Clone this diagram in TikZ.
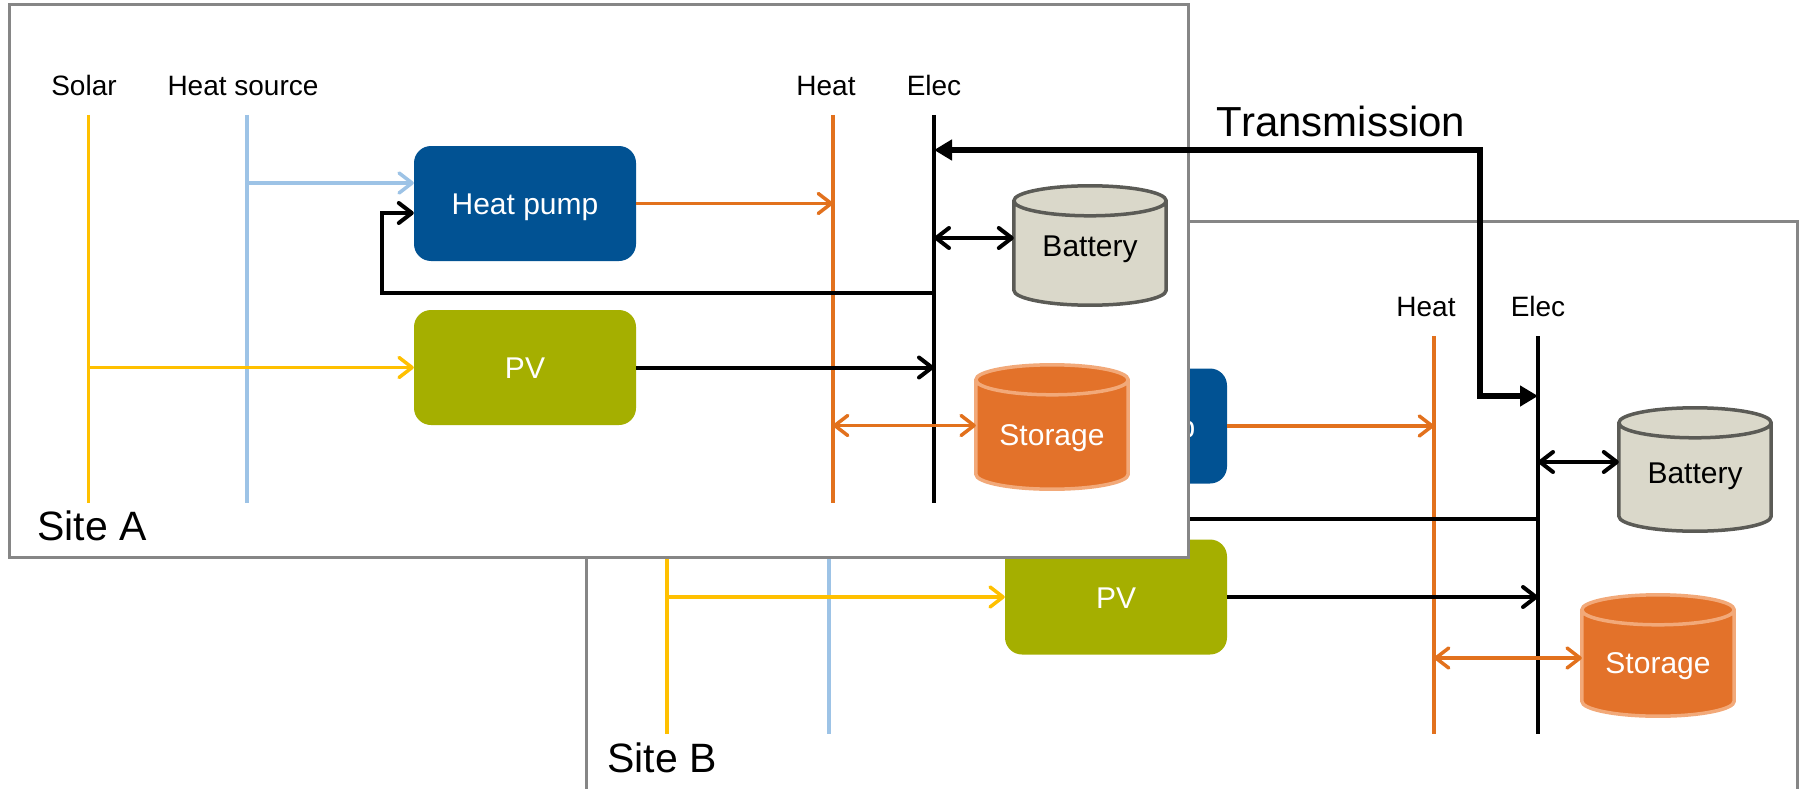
\documentclass[tikz,border=0pt]{standalone}
\usepackage{fontspec}
\setmainfont{Liberation Sans}
\usetikzlibrary{arrows.meta,calc}
\definecolor{solarc}{HTML}{FFC000}
\definecolor{hsrcc}{HTML}{9DC3E6}
\definecolor{heatc}{HTML}{E2711D}
\definecolor{hpblue}{HTML}{015293}
\definecolor{pvgreen}{HTML}{A5AF00}
\definecolor{batfill}{HTML}{DAD8CA}
\definecolor{batedge}{HTML}{5B5B56}
\definecolor{stfill}{HTML}{E3722A}
\definecolor{stedge}{HTML}{F2A979}
\definecolor{framec}{HTML}{868686}
\newcommand{\drawcyl}[4]{%
  \path[fill=#2, draw=#3, line width=3.5pt] let \p1=(#1.north west), \p2=(#1.south east), \n1={(\x2-\x1)/2} in
    (\x1,\y1-#4) -- (\x1,\y2+#4) arc[start angle=180, end angle=360, x radius=\n1, y radius=#4] -- (\x2,\y1-#4) arc[start angle=0, end angle=180, x radius=\n1, y radius=#4] -- cycle
    (\x1,\y1-#4) arc[start angle=180, end angle=360, x radius=\n1, y radius=#4];
}
\begin{document}
\begin{tikzpicture}[x=1pt,y=-1pt,
  boxnode/.style={rounded corners=17pt, minimum width=222pt, minimum height=115pt, inner sep=0pt, text=white, font=\fontsize{30}{36}\selectfont, text height=22pt, text depth=0pt},
  lbl/.style={inner sep=0pt, font=\fontsize{28}{34}\selectfont, text height=20pt, text depth=0pt},
  cyltxt/.style={inner sep=0pt, font=\fontsize{30}{36}\selectfont, text height=22pt, text depth=0pt},
  sitelbl/.style={inner sep=0pt, anchor=west, font=\fontsize{41}{48}\selectfont, text height=29pt, text depth=0pt},
  cylbox/.style={draw=none, inner sep=0pt, minimum width=152pt},
  bus/.style={line width=3.5pt},
  elecbus/.style={line width=4.5pt, black},
  openarr/.style={-{Straight Barb[length=13pt,width=20pt,round]}},
  dblarr/.style={{Straight Barb[length=13pt,width=20pt,round]}-{Straight Barb[length=13pt,width=20pt,round]}},
  blk/.style={line width=4pt, black},
  trans/.style={line width=6pt, black, {Triangle[length=18pt,width=20pt]}-{Triangle[length=18pt,width=20pt]}},
  framestyle/.style={draw=framec, line width=3pt}
]
\useasboundingbox (0,0) rectangle (1803,789);

% ---------------- Site B ----------------
\draw[framestyle] (586,800) -- (586,221) -- (1797,221) -- (1797,800);
\coordinate (solB1) at (667,336);  \coordinate (solB2) at (667,734);
\coordinate (hsB1) at (829,336);   \coordinate (hsB2) at (829,734);
\coordinate (heatB1) at (1434,336); \coordinate (heatB2) at (1434,734);
\coordinate (elecB1) at (1538,336); \coordinate (elecB2) at (1538,734);
\draw[bus, solarc] (solB1) -- (solB2);
\draw[bus, hsrcc] (hsB1) -- (hsB2);
\draw[bus, heatc] (heatB1) -- (heatB2);
\node[lbl] (heatBl) at (1426,306) {Heat};
\node[lbl] (elecBl) at (1538,306) {Elec};
\node[boxnode, fill=hpblue] (hpB) at (1116,426) {};
\node[boxnode, fill=none] (hpBt) at (1122,426) {Heat pump};
\node[boxnode, fill=pvgreen] (pvB) at (1116,597) {PV};
\node[cylbox, minimum height=123pt] (batB) at (1695,469.5) {};
\drawcyl{batB}{batfill}{batedge}{15pt}
\node[cyltxt] (batBt) at (1695,472) {Battery};
\node[cylbox, minimum height=121pt] (stB) at (1658,655.5) {};
\drawcyl{stB}{stfill}{stedge}{15pt}
\node[cyltxt, text=white] (stBt) at (1658,662) {Storage};
\draw[elecbus] (elecB1) -- (elecB2);
\coordinate (hsBj) at (hsB1 |- hpB.west);
\draw[bus, hsrcc, openarr] ([yshift=22pt]hsBj) -- ([yshift=22pt]hpB.west);
\coordinate (retB1) at (1538,519); \coordinate (retB2) at (971,519); \coordinate (retB3) at (971,434);
\draw[blk, openarr] (retB1) -- (retB2) -- (retB3) -- (hpB.west |- retB3);
\draw[bus, heatc, openarr] (hpB.east) -- (heatB1 |- hpB.east);
\draw[bus, solarc, openarr] (solB1 |- pvB.west) -- (pvB.west);
\draw[blk, openarr] (pvB.east) -- (elecB1 |- pvB.east);
\draw[blk, dblarr] ([yshift=7.5pt]elecB1 |- batB.west) -- ([yshift=7.5pt]batB.west);
\draw[bus, heatc, dblarr] ([yshift=-2.5pt]heatB1 |- stB.west) -- ([yshift=-2.5pt]stB.west);
\node[sitelbl] (siteB) at (607,758) {Site B};

% ---------------- Site A ----------------
\draw[framestyle, fill=white] (9,5) rectangle (1188,557);
\coordinate (solA1) at (88.5,115);  \coordinate (solA2) at (88.5,503);
\coordinate (hsA1) at (247,115);   \coordinate (hsA2) at (247,503);
\coordinate (heatA1) at (833,115); \coordinate (heatA2) at (833,503);
\coordinate (elecA1) at (934,115); \coordinate (elecA2) at (934,503);
\node[lbl] (solAl) at (84,86) {Solar};
\node[lbl] (hsAl) at (243,86) {Heat source};
\node[lbl] (heatAl) at (826,86) {Heat};
\node[lbl] (elecAl) at (934,86) {Elec};
\draw[bus, solarc] (solA1) -- (solA2);
\draw[bus, hsrcc] (hsA1) -- (hsA2);
\draw[bus, heatc] (heatA1) -- (heatA2);
\node[boxnode, fill=hpblue] (hpA) at (525,203.5) {Heat pump};
\node[boxnode, fill=pvgreen] (pvA) at (525,367.5) {PV};
\node[cylbox, minimum height=119pt] (batA) at (1090,245.5) {};
\drawcyl{batA}{batfill}{batedge}{15pt}
\node[cyltxt] (batAt) at (1090,245) {Battery};
\node[cylbox, minimum height=124pt] (stA) at (1052,427) {};
\drawcyl{stA}{stfill}{stedge}{15pt}
\node[cyltxt, text=white] (stAt) at (1052,434) {Storage};
\draw[elecbus] (elecA1) -- (elecA2);
\coordinate (hsAj) at (hsA1 |- 0,183);
\draw[bus, hsrcc, openarr] (hsAj) -- (hpA.west |- hsAj);
\coordinate (retA1) at (934,293); \coordinate (retA2) at (382,293); \coordinate (retA3) at (382,213);
\draw[blk, openarr] (retA1) -- (retA2) -- (retA3) -- (hpA.west |- retA3);
\draw[bus, heatc, openarr] (hpA.east) -- (heatA1 |- hpA.east);
\draw[bus, solarc, openarr] (solA1 |- pvA.west) -- (pvA.west);
\draw[blk, openarr] (pvA.east) -- (elecA1 |- pvA.east);
\draw[blk, dblarr] ([yshift=7.5pt]elecA1 |- batA.west) -- ([yshift=7.5pt]batA.west);
\draw[bus, heatc, dblarr] ([yshift=1.5pt]heatA1 |- stA.west) -- ([yshift=1.5pt]stA.west);
\node[sitelbl] (siteA) at (37,526) {Site A};

% ---------------- Transmission ----------------
\coordinate (tr1) at (1480,150); \coordinate (tr2) at (1480,396);
\draw[trans] (elecA1 |- tr1) -- (tr1) -- (tr2) -- (elecB1 |- tr2);
\node[inner sep=0pt, font=\fontsize{42}{50}\selectfont, text height=30pt, text depth=0pt] (transl) at (1341,121) {Transmission};
\end{tikzpicture}
\end{document}
